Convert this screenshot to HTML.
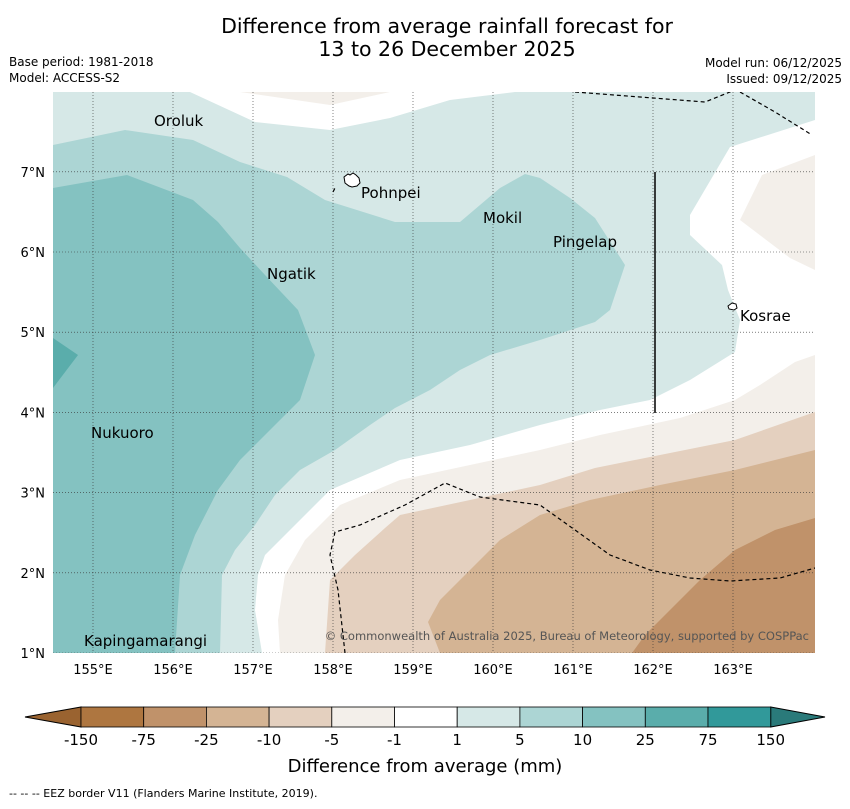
<!DOCTYPE html>
<html><head><meta charset="utf-8"><style>
body{margin:0;background:#fff;font-family:"Liberation Sans","DejaVu Sans",sans-serif}
svg text{font-family:"DejaVu Sans","Liberation Sans",sans-serif}
</style></head><body>
<svg width="850" height="804" viewBox="0 0 850 804">
<text x="447" y="33" font-size="20.5" text-anchor="middle">Difference from average rainfall forecast for</text>
<text x="447" y="56" font-size="20.5" text-anchor="middle">13 to 26 December 2025</text>
<text x="9" y="66" font-size="12">Base period: 1981-2018</text>
<text x="9" y="82" font-size="12">Model: ACCESS-S2</text>
<text x="842" y="67" font-size="12" text-anchor="end">Model run: 06/12/2025</text>
<text x="842" y="83" font-size="12" text-anchor="end">Issued: 09/12/2025</text>
<defs><clipPath id="mc"><rect x="53" y="92" width="762" height="561"/></clipPath></defs>
<g id="map" clip-path="url(#mc)">
<rect x="53" y="92" width="762" height="561" fill="#fff"/>
<polygon fill="#d6e8e7" points="53,92 190,92 255,122 330,130 390,118 450,100 515,92 815,92 815,120 730,147 690,215 690,235 722,265 728,290 740,320 735,352 690,380 650,400 600,410 540,425 470,445 400,460 330,490 295,525 265,555 258,575 255,610 262,653 53,653"/>
<polygon fill="#acd5d4" points="53,145 125,130 193,140 240,162 287,177 325,200 395,222 460,222 500,188 525,174 540,178 570,198 595,218 625,265 610,310 595,322 540,340 490,355 460,370 430,390 395,408 370,425 335,450 300,470 275,495 255,525 235,550 222,575 220,653 53,653"/>
<polygon fill="#84c2c1" points="53,188 127,175 193,200 218,222 240,248 265,275 298,310 315,355 300,400 270,430 240,460 218,490 195,535 180,575 175,653 53,653"/>
<polygon fill="#5aadab" points="53,338 78,355 53,388"/>
<polygon fill="#f3efea" points="240,92 330,105 390,92"/>
<polygon fill="#f3efea" points="740,220 762,175 815,155 815,270 790,258"/>
<polygon fill="#f3efea" points="815,355 795,362 760,385 735,400 680,418 600,435 540,450 470,465 400,480 340,505 305,540 285,575 278,620 280,653 815,653"/>
<polygon fill="#e4d0bf" points="815,412 735,440 660,455 595,468 540,485 470,500 400,515 385,528 355,555 330,580 325,653 815,653"/>
<polygon fill="#d4b494" points="815,450 735,470 660,485 590,500 540,515 500,540 470,570 440,600 428,622 440,653 815,653"/>
<polygon fill="#c0926a" points="815,518 775,530 735,550 700,580 670,610 645,635 632,653 815,653"/>
<g id="grid" stroke="#333" stroke-width="0.6" stroke-dasharray="1,2"></g>
<g fill="none" stroke="#000" stroke-width="1.2" stroke-dasharray="4,3">
<polyline points="575,92 640,97 705,102 735,90"/>
<polyline points="740,92 775,112 812,135"/>
<polyline points="345,653 338,590 330,555 335,532 360,525 405,505 445,483 480,497 540,505 575,530 610,555 650,570 690,578 730,581 780,578 815,568"/>
<polyline points="333,192 336,186"/>
</g>
<line x1="655" y1="172" x2="655" y2="413" stroke="#000" stroke-width="1.5"/>
<path d="M344,177 l4,-3 l2,1 l3,-2 l3,2 l3,3 l1,5 l-3,3 l-5,1 l-3,-1 l-4,-3 z" fill="#fff" stroke="#000" stroke-width="1"/>
<path d="M728,306 l4,-3 l4,1 l1,4 l-3,2 l-5,-1 z" fill="#fff" stroke="#000" stroke-width="1"/>
<g font-size="15" fill="#000">
<text x="154" y="126">Oroluk</text><text x="361" y="198">Pohnpei</text><text x="483" y="223">Mokil</text>
<text x="553" y="247">Pingelap</text><text x="267" y="279">Ngatik</text><text x="740" y="321">Kosrae</text>
<text x="91" y="438">Nukuoro</text><text x="84" y="646">Kapingamarangi</text>
</g>
<text x="809" y="640" font-size="11.5" fill="#555" text-anchor="end">© Commonwealth of Australia 2025, Bureau of Meteorology, supported by COSPPac</text>
</g>
<g id="axes" font-size="13"></g>
<g id="cbar"></g>
<text x="425" y="772" font-size="18" text-anchor="middle">Difference from average (mm)</text>
<text x="9" y="797" font-size="11">-- -- -- EEZ border V11 (Flanders Marine Institute, 2019).</text>
</svg>
<script>
const lonTicks=[155,156,157,158,159,160,161,162,163];
const latTicks=[1,2,3,4,5,6,7];
const levelLabels=["-150","-75","-25","-10","-5","-1","1","5","10","25","75","150"];
const levelColors=["#ae7640","#c0926a","#d4b494","#e4d0bf","#f3efea","#ffffff","#d6e8e7","#acd5d4","#84c2c1","#5aadab","#31999a"];
const NS="http://www.w3.org/2000/svg";
const lx=l=>53+(l-154.5)*80, ly=l=>653-(l-1)*80.2;
const grid=document.getElementById('grid'), axes=document.getElementById('axes'), cb=document.getElementById('cbar');
function mk(t,a,p){const e=document.createElementNS(NS,t);for(const k in a)e.setAttribute(k,a[k]);p.appendChild(e);return e;}
lonTicks.forEach(v=>{const x=lx(v);
 const g=mk('line',{x1:x,y1:92,x2:x,y2:653},grid);
 
 
 const t=mk('text',{x:x,y:674,'text-anchor':'middle'},axes);t.textContent=v+'°E';
 
 });
latTicks.forEach(v=>{const y=ly(v);
 const g=mk('line',{x1:53,y1:y,x2:815,y2:y},grid);
 
 
 const t=mk('text',{x:45,y:y+5,'text-anchor':'end'},axes);t.textContent=v+'°N';
 
 });
const cx0=81,cw=62.7,cy=707,ch=20;
const under=mk('polygon',{points:`25,717 ${cx0},${cy} ${cx0},${cy+ch}`,fill:'#9a6330',stroke:'#000','stroke-width':1},cb);


const xe=cx0+cw*levelColors.length;
const over=mk('polygon',{points:`${xe},${cy} 825,717 ${xe},${cy+ch}`,fill:'#2a7a7a',stroke:'#000','stroke-width':1},cb);


levelColors.forEach((c,i)=>{const r=mk('rect',{x:cx0+i*cw,y:cy,width:cw,height:ch,fill:c,stroke:'#000','stroke-width':0.8},cb);
 
 });
levelLabels.forEach((s,i)=>{const t=mk('text',{x:cx0+i*cw,y:745,'font-size':15,'text-anchor':'middle'},cb);t.textContent=s;
 
 });
</script>
</body></html>
